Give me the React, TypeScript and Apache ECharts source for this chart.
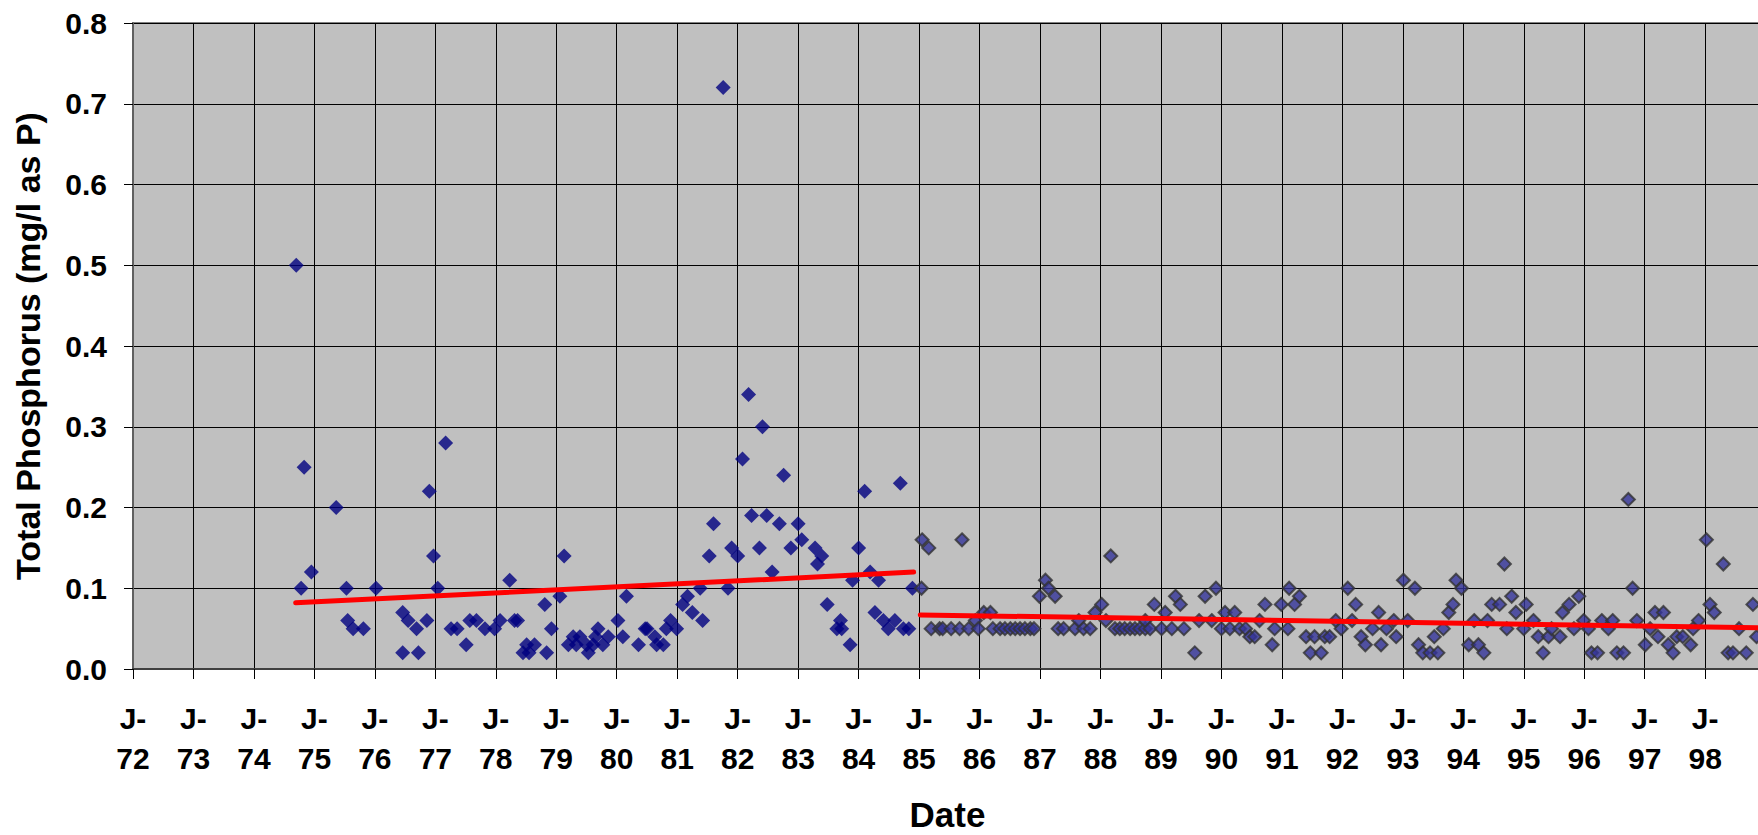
import React, { useEffect, useRef } from "react";
import * as echarts from "echarts";

// Tick years for the date axis (labels "J-72" ... "J-98")
const yearTicks = [
  1972, 1973, 1974, 1975, 1976, 1977, 1978, 1979, 1980, 1981, 1982, 1983, 1984,
  1985, 1986, 1987, 1988, 1989, 1990, 1991, 1992, 1993, 1994, 1995, 1996, 1997, 1998,
];

// Series 1: 1974 - 1984 samples (decimal year)
const dates1 = [
  1974.70, 1974.78, 1974.83, 1974.95, 1975.36, 1975.53, 1975.55, 1975.64, 1975.81, 1976.02,
  1976.46, 1976.46, 1976.55, 1976.69, 1976.72, 1976.86, 1976.90, 1976.97, 1977.04, 1977.17,
  1977.26, 1977.36, 1977.51, 1977.57, 1977.68, 1977.82, 1977.98, 1978.07, 1978.23, 1978.31,
  1978.36, 1978.45, 1978.51, 1978.55, 1978.64, 1978.81, 1978.84, 1978.92, 1979.06, 1979.13,
  1979.20, 1979.28, 1979.33, 1979.39, 1979.50, 1979.53, 1979.61, 1979.65, 1979.69, 1979.77,
  1979.86, 1980.02, 1980.10, 1980.16, 1980.36, 1980.47, 1980.50, 1980.63, 1980.66, 1980.77,
  1980.82, 1980.89, 1980.99, 1981.09, 1981.17, 1981.25, 1981.38, 1981.42, 1981.53, 1981.60,
  1981.76, 1981.84, 1981.90, 1982.00, 1982.08, 1982.18, 1982.23, 1982.36, 1982.41, 1982.48,
  1982.57, 1982.69, 1982.76, 1982.88, 1983.00, 1983.06, 1983.28, 1983.32, 1983.39, 1983.48,
  1983.64, 1983.70, 1983.72, 1983.86, 1983.90, 1984.00, 1984.10, 1984.19, 1984.27, 1984.33,
  1984.41, 1984.49, 1984.60, 1984.69, 1984.74, 1984.83, 1984.89,
];
const phosphorus1 = [
  0.50, 0.10, 0.25, 0.12, 0.20, 0.10, 0.06, 0.05, 0.05, 0.10,
  0.07, 0.02, 0.06, 0.05, 0.02, 0.06, 0.22, 0.14, 0.10, 0.28,
  0.05, 0.05, 0.03, 0.06, 0.06, 0.05, 0.05, 0.06, 0.11, 0.06,
  0.06, 0.02, 0.03, 0.02, 0.03, 0.08, 0.02, 0.05, 0.09, 0.14,
  0.03, 0.04, 0.03, 0.04, 0.03, 0.02, 0.03, 0.04, 0.05, 0.03,
  0.04, 0.06, 0.04, 0.09, 0.03, 0.05, 0.05, 0.04, 0.03, 0.03,
  0.05, 0.06, 0.05, 0.08, 0.09, 0.07, 0.10, 0.06, 0.14, 0.18,
  0.72, 0.10, 0.15, 0.14, 0.26, 0.34, 0.19, 0.15, 0.30, 0.19,
  0.12, 0.18, 0.24, 0.15, 0.18, 0.16, 0.15, 0.13, 0.14, 0.08,
  0.05, 0.06, 0.05, 0.03, 0.11, 0.15, 0.22, 0.12, 0.07, 0.11,
  0.06, 0.05, 0.06, 0.23, 0.05, 0.05, 0.10,
];

// Series 2: 1985 - 1998 samples (decimal year)
const dates2 = [
  1985.04, 1985.05, 1985.16, 1985.20, 1985.34, 1985.39, 1985.53, 1985.67, 1985.71, 1985.82,
  1985.93, 1985.98, 1986.07, 1986.18, 1986.22, 1986.34, 1986.42, 1986.51, 1986.59, 1986.67,
  1986.75, 1986.84, 1986.90, 1986.99, 1987.09, 1987.14, 1987.25, 1987.30, 1987.39, 1987.58,
  1987.64, 1987.72, 1987.83, 1987.91, 1988.02, 1988.09, 1988.17, 1988.24, 1988.32, 1988.40,
  1988.49, 1988.57, 1988.65, 1988.74, 1988.74, 1988.82, 1988.89, 1989.01, 1989.07, 1989.18,
  1989.24, 1989.32, 1989.38, 1989.56, 1989.63, 1989.73, 1989.84, 1989.91, 1990.00, 1990.06,
  1990.14, 1990.22, 1990.30, 1990.40, 1990.47, 1990.55, 1990.63, 1990.72, 1990.84, 1990.88,
  1990.99, 1991.10, 1991.12, 1991.21, 1991.29, 1991.40, 1991.47, 1991.54, 1991.65, 1991.71,
  1991.79, 1991.89, 1991.98, 1992.09, 1992.16, 1992.22, 1992.31, 1992.38, 1992.50, 1992.60,
  1992.64, 1992.73, 1992.85, 1992.89, 1993.01, 1993.08, 1993.20, 1993.26, 1993.33, 1993.45,
  1993.52, 1993.58, 1993.67, 1993.76, 1993.83, 1993.88, 1993.97, 1994.09, 1994.18, 1994.25,
  1994.34, 1994.40, 1994.47, 1994.60, 1994.68, 1994.72, 1994.80, 1994.87, 1995.00, 1995.04,
  1995.16, 1995.24, 1995.32, 1995.41, 1995.46, 1995.60, 1995.64, 1995.75, 1995.83, 1995.91,
  1995.99, 1996.07, 1996.12, 1996.22, 1996.29, 1996.40, 1996.47, 1996.54, 1996.65, 1996.73,
  1996.80, 1996.87, 1997.01, 1997.09, 1997.17, 1997.22, 1997.31, 1997.39, 1997.47, 1997.53,
  1997.63, 1997.76, 1997.80, 1997.89, 1998.02, 1998.08, 1998.15, 1998.30, 1998.38, 1998.46,
  1998.56, 1998.68, 1998.79, 1998.85,
];
const phosphorus2 = [
  0.10, 0.16, 0.15, 0.05, 0.05, 0.05, 0.05, 0.05, 0.16, 0.05,
  0.06, 0.05, 0.07, 0.07, 0.05, 0.05, 0.05, 0.05, 0.05, 0.05,
  0.05, 0.05, 0.05, 0.09, 0.11, 0.10, 0.09, 0.05, 0.05, 0.05,
  0.06, 0.05, 0.05, 0.07, 0.08, 0.06, 0.14, 0.05, 0.05, 0.05,
  0.05, 0.05, 0.05, 0.05, 0.06, 0.05, 0.08, 0.05, 0.07, 0.05,
  0.09, 0.08, 0.05, 0.02, 0.06, 0.09, 0.06, 0.10, 0.05, 0.07,
  0.05, 0.07, 0.05, 0.05, 0.04, 0.04, 0.06, 0.08, 0.03, 0.05,
  0.08, 0.05, 0.10, 0.08, 0.09, 0.04, 0.02, 0.04, 0.02, 0.04,
  0.04, 0.06, 0.05, 0.10, 0.06, 0.08, 0.04, 0.03, 0.05, 0.07,
  0.03, 0.05, 0.06, 0.04, 0.11, 0.06, 0.10, 0.03, 0.02, 0.02,
  0.04, 0.02, 0.05, 0.07, 0.08, 0.11, 0.10, 0.03, 0.06, 0.03,
  0.02, 0.06, 0.08, 0.08, 0.13, 0.05, 0.09, 0.07, 0.05, 0.08,
  0.06, 0.04, 0.02, 0.04, 0.05, 0.04, 0.07, 0.08, 0.05, 0.09,
  0.06, 0.05, 0.02, 0.02, 0.06, 0.05, 0.06, 0.02, 0.02, 0.21,
  0.10, 0.06, 0.03, 0.05, 0.07, 0.04, 0.07, 0.03, 0.02, 0.04,
  0.04, 0.03, 0.05, 0.06, 0.16, 0.08, 0.07, 0.13, 0.02, 0.02,
  0.05, 0.02, 0.08, 0.04,
];

// Linear trend lines (start / end)
const trend1X = [1974.69, 1984.91];
const trend1Y = [0.082, 0.12];
const trend2X = [1985.02, 1998.94];
const trend2Y = [0.067, 0.051];

const FONT = "'Liberation Sans', Arial, Helvetica, sans-serif";

export default function App() {
  const ref = useRef<HTMLDivElement>(null);

  useEffect(() => {
    document.body.style.margin = "0";
    const chart = echarts.init(ref.current!, null, { renderer: "svg" });
    chart.setOption({
      animation: false,
      backgroundColor: "#ffffff",
      textStyle: { fontFamily: FONT },
      grid: {
        left: 133,
        right: -4,
        top: 23,
        bottom: 166,
        containLabel: false,
        outerBoundsMode: "none",
        show: true,
        backgroundColor: "#c0c0c0",
        borderColor: "#808080",
        borderWidth: 2,
      },
      xAxis: {
        type: "value",
        min: 1972,
        max: 1998.94,
        interval: 1,
        name: "Date",
        nameLocation: "middle",
        nameGap: 128,
        nameTextStyle: { fontFamily: FONT, fontWeight: "bold", fontSize: 35, color: "#000" },
        axisLine: { show: true, lineStyle: { color: "#404040", width: 2 } },
        axisTick: { show: true, inside: false, length: 10, lineStyle: { color: "#000", width: 1 } },
        axisLabel: {
          margin: 29,
          fontFamily: FONT,
          fontWeight: "bold",
          fontSize: 30,
          lineHeight: 40,
          color: "#000",
          formatter: (v: number) => {
            const r = Math.round(v);
            if (Math.abs(v - r) > 1e-6) return "";
            const idx = yearTicks.indexOf(r);
            if (idx < 0) return "";
            return "J-\n" + String(yearTicks[idx] % 100).padStart(2, "0");
          },
        },
        splitLine: { show: true, lineStyle: { color: "#000", width: 1 } },
      },
      yAxis: {
        type: "value",
        min: 0,
        max: 0.8,
        interval: 0.1,
        name: "Total Phosphorus (mg/l as P)",
        nameLocation: "middle",
        nameRotate: 90,
        nameGap: 88,
        nameTextStyle: { fontFamily: FONT, fontWeight: "bold", fontSize: 34, color: "#000" },
        axisLine: { show: true, lineStyle: { color: "#606060", width: 2 } },
        axisTick: { show: true, inside: false, length: 9, lineStyle: { color: "#000", width: 1 } },
        axisLabel: {
          margin: 26,
          fontFamily: FONT,
          fontWeight: "bold",
          fontSize: 30,
          color: "#000",
          formatter: (v: number) => v.toFixed(1),
        },
        splitLine: { show: true, lineStyle: { color: "#000", width: 1 } },
      },
      series: [
        {
          type: "scatter",
          symbol: "diamond",
          symbolSize: 15,
          itemStyle: { color: "#000080" },
          data: dates1.map((d, i) => [d, phosphorus1[i]]),
          z: 3,
        },
        {
          type: "scatter",
          symbol: "diamond",
          symbolSize: 13,
          itemStyle: { color: "#333399", borderColor: "#333333", borderWidth: 2 },
          data: dates2.map((d, i) => [d, phosphorus2[i]]),
          z: 3,
        },
        {
          type: "line",
          symbol: "none",
          silent: true,
          lineStyle: { color: "#ff0000", width: 5, cap: "round" },
          data: trend1X.map((d, i) => [d, trend1Y[i]]),
          z: 5,
        },
        {
          type: "line",
          symbol: "none",
          silent: true,
          lineStyle: { color: "#ff0000", width: 5, cap: "round" },
          data: trend2X.map((d, i) => [d, trend2Y[i]]),
          z: 5,
        },
      ],
    });
    return () => chart.dispose();
  }, []);

  return <div ref={ref} style={{ width: 1758, height: 835 }} />;
}
